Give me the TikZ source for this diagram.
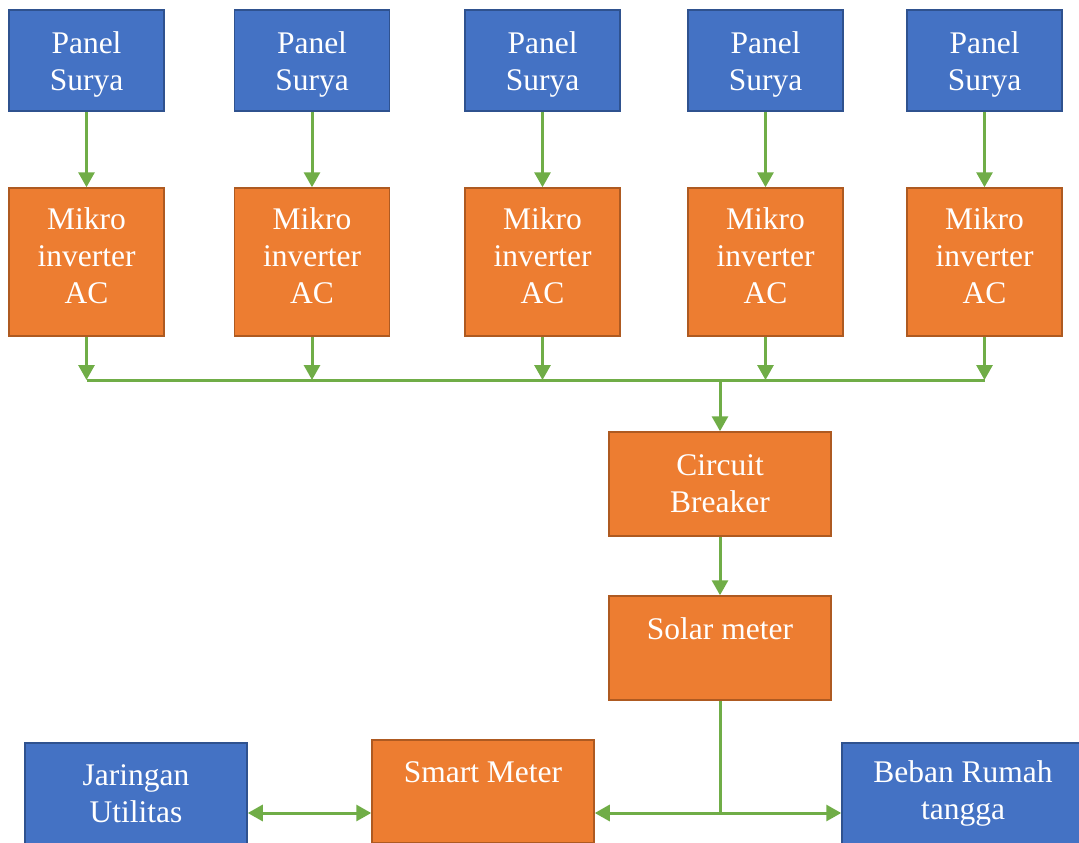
\documentclass[tikz,border=0pt]{standalone}
\usepackage{fontspec}
\setmainfont{Liberation Serif}
\usetikzlibrary{positioning,arrows.meta}

\definecolor{biru}{HTML}{4472C4}
\definecolor{birutepi}{HTML}{2F528F}
\definecolor{oranye}{HTML}{ED7D31}
\definecolor{oranyetepi}{HTML}{AE5A21}
\definecolor{hijau}{HTML}{70AD47}

\begin{document}
\begin{tikzpicture}[
  x=1pt, y=-1pt,
  node distance=70pt and 70pt,
  kotak/.style={rectangle, line width=1.5pt, text=white, align=center,
                font=\fontsize{31.5}{37}\selectfont, inner sep=0pt},
  panel/.style={kotak, fill=biru, draw=birutepi, text height=66pt,
                minimum width=155pt, minimum height=101pt},
  inverter/.style={kotak, fill=oranye, draw=oranyetepi,
                   minimum width=155pt, minimum height=148pt, text depth=12pt},
  proses/.style={kotak, fill=oranye, draw=oranyetepi,
                 minimum width=222pt, minimum height=104pt},
  luar/.style={kotak, fill=biru, draw=birutepi,
               minimum width=222pt, minimum height=101pt},
  atas/.style={text depth=39pt},
  seta/.style={-{Triangle[width=16pt, length=15pt]}, line width=3pt, draw=hijau},
  dua/.style={seta, {Triangle[width=16pt, length=15pt]}-{Triangle[width=16pt, length=15pt]}},
  garis/.style={line width=3pt, draw=hijau}
]
\clip (0,0) rectangle (1079,843);

% ---------------- Panel surya ----------------
\node[panel] (p1) at (86.5,60.5) {Panel\\Surya};
\node[panel, right=69pt of p1] (p2) {Panel\\Surya};
\node[panel, right=74pt of p2] (p3) {Panel\\Surya};
\node[panel, right=66.5pt of p3] (p4) {Panel\\Surya};
\node[panel, right=62.5pt of p4] (p5) {Panel\\Surya};

% ---------------- Mikro inverter ----------------
\node[inverter, below=75.5pt of p1] (m1) {Mikro\\inverter\\AC};
\node[inverter, below=75.5pt of p2] (m2) {Mikro\\inverter\\AC};
\node[inverter, below=75.5pt of p3] (m3) {Mikro\\inverter\\AC};
\node[inverter, below=75.5pt of p4] (m4) {Mikro\\inverter\\AC};
\node[inverter, below=75.5pt of p5] (m5) {Mikro\\inverter\\AC};

\coordinate (bus) at (0,380);

% ---------------- Jalur tengah ----------------
\node[proses] (cb) at (720,484) {Circuit\\Breaker};
\node[proses, atas, below=58.5pt of cb] (solar) {Solar meter};

% ---------------- Baris bawah ----------------
\node[proses, atas, minimum height=103pt] (smart) at (483,791.5) {Smart Meter};
\node[luar] (jaringan) at (136,793.5) {Jaringan\\Utilitas};
\node[luar, minimum width=242pt] (beban) at (963,793.5) {Beban Rumah\\tangga};

\coordinate (cabang) at (solar.south |- 0,813);

% ---------------- Panah ----------------
\draw[seta] (p1) -- (m1);
\draw[seta] (p2) -- (m2);
\draw[seta] (p3) -- (m3);
\draw[seta] (p4) -- (m4);
\draw[seta] (p5) -- (m5);

\draw[garis] (m1.south |- bus) -- (m5.south |- bus);
\draw[seta] (m1.south) -- (m1.south |- bus);
\draw[seta] (m2.south) -- (m2.south |- bus);
\draw[seta] (m3.south) -- (m3.south |- bus);
\draw[seta] (m4.south) -- (m4.south |- bus);
\draw[seta] (m5.south) -- (m5.south |- bus);

\draw[seta] (cb.north |- bus) -- (cb.north);
\draw[seta] (cb) -- (solar);

\draw[garis] (solar.south) -- (cabang);
\draw[seta] (cabang) -- (cabang -| smart.east);
\draw[seta] (cabang) -- (cabang -| beban.west);
\draw[dua] (jaringan.east |- cabang) -- (smart.west |- cabang);

\end{tikzpicture}
\end{document}
